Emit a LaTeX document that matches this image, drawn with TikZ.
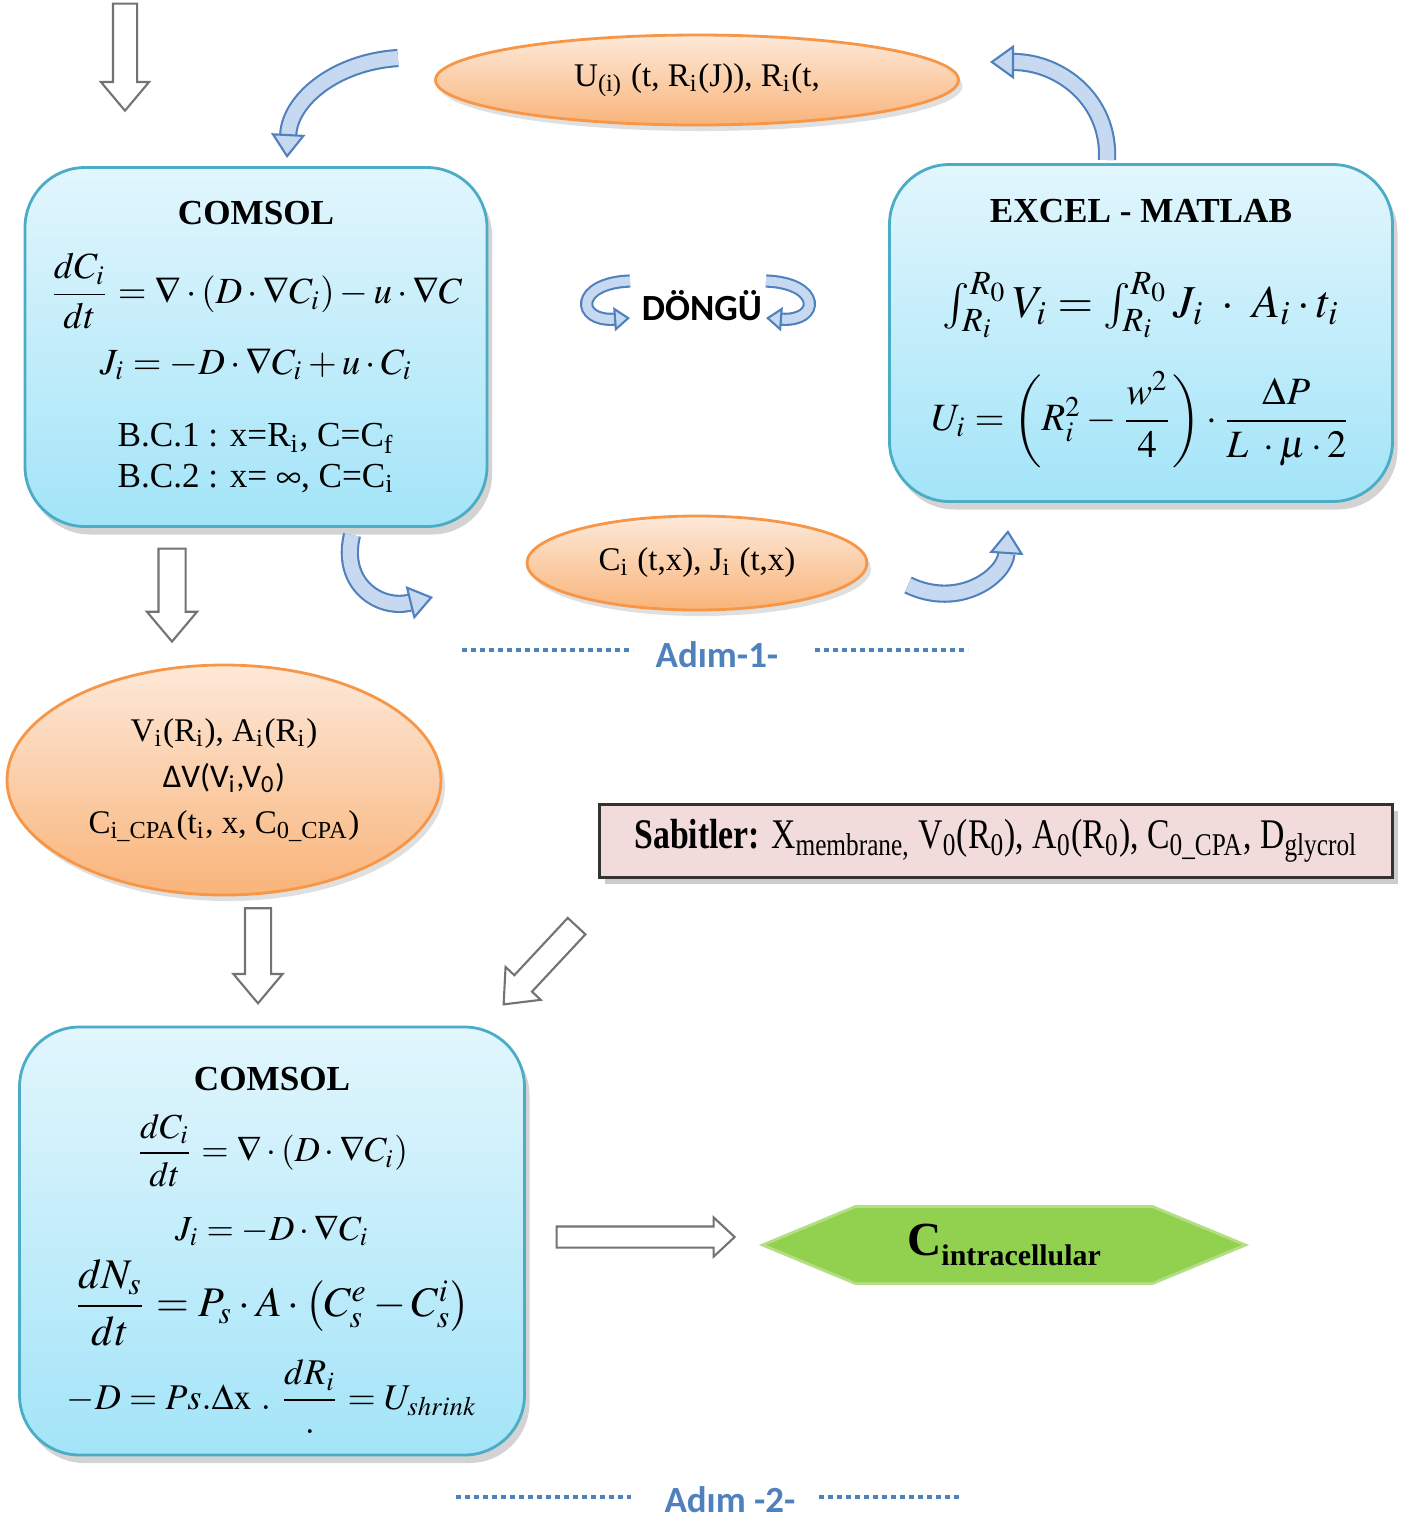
\documentclass[tikz,border=0pt]{standalone}
\usepackage{amsmath}
\usepackage{mathptmx}
\usepackage{graphicx}
\usepackage{fontspec}
\setmainfont{Liberation Serif}
\newfontfamily\calibri{Carlito}
\usepackage{tikz}
\usetikzlibrary{arrows.meta,
                positioning,
                shapes.geometric, shapes.arrows, shapes.symbols,
                shadows}
\definecolor{boxedge}{HTML}{4BACC6}
\definecolor{boxtop}{HTML}{E2F6FD}
\definecolor{boxbot}{HTML}{A3E4F8}
\definecolor{ovaledge}{HTML}{F79646}
\definecolor{ovaltop}{HTML}{FDE9D9}
\definecolor{ovalbot}{HTML}{F9B47A}
\definecolor{cycleedge}{HTML}{4F81BD}
\definecolor{cyclefill}{HTML}{C6D9F1}
\definecolor{stepblue}{HTML}{4F81BD}
\definecolor{constfill}{HTML}{F2DCDB}
\definecolor{hexgreen}{HTML}{92D050}

\begin{document}
\begin{tikzpicture}[x=0.1mm, y=-0.1mm,
      base/.style = {align=center, inner sep=0pt,
                     font=\fontsize{10}{13}\selectfont},
   toolbox/.style = {base, draw=boxedge, line width=0.8pt, rounded corners=6mm,
                     top color=boxtop, bottom color=boxbot,
                     drop shadow={shadow xshift=0.5mm, shadow yshift=-0.8mm, opacity=0.35}},
outputoval/.style = {base, ellipse, draw=ovaledge, line width=0.8pt,
                     top color=ovaltop, bottom color=ovalbot,
                     font=\fontsize{9.4}{13}\selectfont,
                     drop shadow={shadow xshift=0.4mm, shadow yshift=-0.6mm, opacity=0.25}},
  constbox/.style = {base, draw=black!80, line width=0.8pt, fill=constfill,
                     drop shadow={shadow xshift=0.5mm, shadow yshift=-0.6mm, opacity=0.4}},
  finalhex/.style = {base, signal, signal to=west and east, signal pointer angle=45,
                     draw=hexgreen!70!white, line width=0.8pt, fill=hexgreen},
blockarrow/.style = {single arrow, draw=black!55, fill=white, line width=0.6pt,
                     inner xsep=0pt, single arrow tip angle=80},
cyclearrow/.style = {draw=cycleedge, line width=0.6pt, double=cyclefill, double distance=1.4mm,
                     -{Triangle[length=2.4mm, width=3.4mm, fill=cyclefill, line width=0.6pt]}},
smallcycle/.style = {cyclearrow, double distance=0.9mm,
                     -{Triangle[length=1.6mm, width=2.4mm, fill=cyclefill, line width=0.6pt]}},
 steplabel/.style = {font=\calibri\bfseries\fontsize{10.5}{12}\selectfont, text=stepblue},
   dotline/.style = {draw=stepblue, line width=0.45mm, dash pattern=on 0.45mm off 0.45mm}
                    ]
\useasboundingbox (0,0) rectangle (1408,1519);

% step 1
\node (comsolA) [toolbox, minimum width=46.2mm, minimum height=35.9mm] at (256,347)
  {{\bfseries COMSOL}\\[2.5mm]
   {\fontsize{10.5}{13}\selectfont $\dfrac{dC_i}{dt} = \nabla\cdot(D\cdot\nabla C_i) - u\cdot\nabla C$}\\[1.5mm]
   {\fontsize{10.5}{13}\selectfont $J_i = -D\cdot\nabla C_i + u\cdot C_i$}\\[2.7mm]
   B.C.1 : x=R\textsubscript{i}, C=C\textsubscript{f}\\[-0.5mm]
   B.C.2 : x= $\infty$, C=C\textsubscript{i}};
\node (excel) [toolbox, minimum width=50.3mm, minimum height=33.7mm] at (1141,333)
  {{\bfseries EXCEL - MATLAB}\\[5mm]
   {\fontsize{13}{15}\selectfont $\int_{R_i}^{R_0} V_i = \int_{R_i}^{R_0} J_i\ \cdot\ A_i\cdot t_i$}\\[3mm]
   {\fontsize{11}{13}\selectfont $U_i = \left(R_i^2 - \dfrac{w^2}{4}\right)\cdot\dfrac{\Delta P}{L\ \cdot\mu\cdot 2}$}};
\node (uOval) [outputoval, minimum width=52.3mm, minimum height=9mm] at (697,80)
  {U\textsubscript{(i)} (t, R\textsubscript{i}(J)), R\textsubscript{i}(t,};
\node (cOval) [outputoval, minimum width=34mm, minimum height=9.4mm] at (697,563)
  {C\textsubscript{i} (t,x), J\textsubscript{i} (t,x)};
\node (dongu) [font=\calibri\bfseries\fontsize{10.5}{12}\selectfont] at (702,306) {DÖNGÜ};

% the loop
\coordinate (lp1s) at (398,58);   \coordinate (lp1e) at (287,158);
\coordinate (lp2s) at (1107,160); \coordinate (lp2e) at (990,62);
\coordinate (lp3s) at (352,535);  \coordinate (lp3e) at (433,597);
\coordinate (lp4s) at (908,585);  \coordinate (lp4e) at (1008,530);
\draw[cyclearrow] (lp1s) .. controls (335,62) and (290,100) .. (lp1e);
\draw[cyclearrow] (lp2s) .. controls (1110,100) and (1060,62) .. (lp2e);
\draw[cyclearrow] (lp3s) .. controls (340,585) and (380,610) .. (lp3e);
\draw[cyclearrow] (lp4s) .. controls (960,610) and (1005,575) .. (lp4e);
\draw[smallcycle] (630,281) .. controls (574,283) and (576,322) .. (630,318);
\draw[smallcycle] (766,281) .. controls (822,283) and (820,322) .. (766,318);

\node (adimA) [steplabel] at (717,655) {Adım-1-};
\coordinate (dA1) at (462,650); \coordinate (dA2) at (633,650);
\coordinate (dA3) at (815,650); \coordinate (dA4) at (968,650);
\draw[dotline] (dA1) -- (dA2);
\draw[dotline] (dA3) -- (dA4);

% step 2
\node (valsOval) [outputoval, minimum width=43.4mm, minimum height=23mm] at (224,780)
  {V\textsubscript{i}(R\textsubscript{i}), A\textsubscript{i}(R\textsubscript{i})\\
   {\calibri ΔV(V\textsubscript{i},V\textsubscript{0})}\\
   C\textsubscript{i\_CPA}(t\textsubscript{i}, x, C\textsubscript{0\_CPA})};
\node (consts) [constbox, minimum width=79.3mm, minimum height=7.3mm] at (996,841)
  {\scalebox{0.8}[1]{\fontsize{12}{14}\selectfont\textbf{Sabitler:} X\textsubscript{membrane,} V\textsubscript{0}(R\textsubscript{0}), A\textsubscript{0}(R\textsubscript{0}), C\textsubscript{0\_CPA}, D\textsubscript{glycrol}}};
\node (comsolB) [toolbox, minimum width=50.5mm, minimum height=42.8mm] at (272,1241)
  {\rule{0pt}{4.2mm}{\bfseries COMSOL}\\[2mm]
   $\dfrac{dC_i}{dt} = \nabla\cdot(D\cdot\nabla C_i)$\\[2.5mm]
   $J_i = -D\cdot\nabla C_i$\\[1mm]
   {\fontsize{12}{14}\selectfont $\dfrac{dN_s}{dt} = P_s\cdot A\cdot\left(C_s^e - C_s^i\right)$}\\[1mm]
   {\fontsize{10.3}{13}\selectfont $-D = Ps.\Delta\mathrm{x}\ .\ \dfrac{dR_i}{.} = U_{shrink}$}};
\node (final) [finalhex, minimum width=48.3mm, minimum height=7.7mm] at (1004,1245)
  {\bfseries{\fontsize{13.5}{16}\selectfont C}\raisebox{-1mm}{\fontsize{8.5}{10}\selectfont intracellular}};

% block arrows
\node (inArrow) [blockarrow, rotate=270, minimum height=10.7mm, inner ysep=1.1mm,
                 single arrow head extend=1.2mm] at (125,50) {};
\node (arrowA) [blockarrow, rotate=270, minimum height=9.3mm, inner ysep=1.25mm,
                single arrow head extend=1.15mm] at (172,587) {};
\node (arrowB) [blockarrow, rotate=270, minimum height=9.5mm, inner ysep=1.2mm,
                single arrow head extend=1.15mm] at (258,948) {};
\node (arrowC) [blockarrow, rotate=227, minimum height=10.7mm, inner ysep=1.1mm,
                single arrow head extend=1.2mm] at (545,960) {};
\node (arrowD) [blockarrow, single arrow tip angle=86, minimum height=17.8mm, inner ysep=0.95mm,
                single arrow head extend=0.9mm] at (640,1237) {};

\node (adimB) [steplabel] at (730,1500) {Adım -2-};
\coordinate (dB1) at (456,1497); \coordinate (dB2) at (632,1497);
\coordinate (dB3) at (819,1497); \coordinate (dB4) at (962,1497);
\draw[dotline] (dB1) -- (dB2);
\draw[dotline] (dB3) -- (dB4);
\end{tikzpicture}
\end{document}
